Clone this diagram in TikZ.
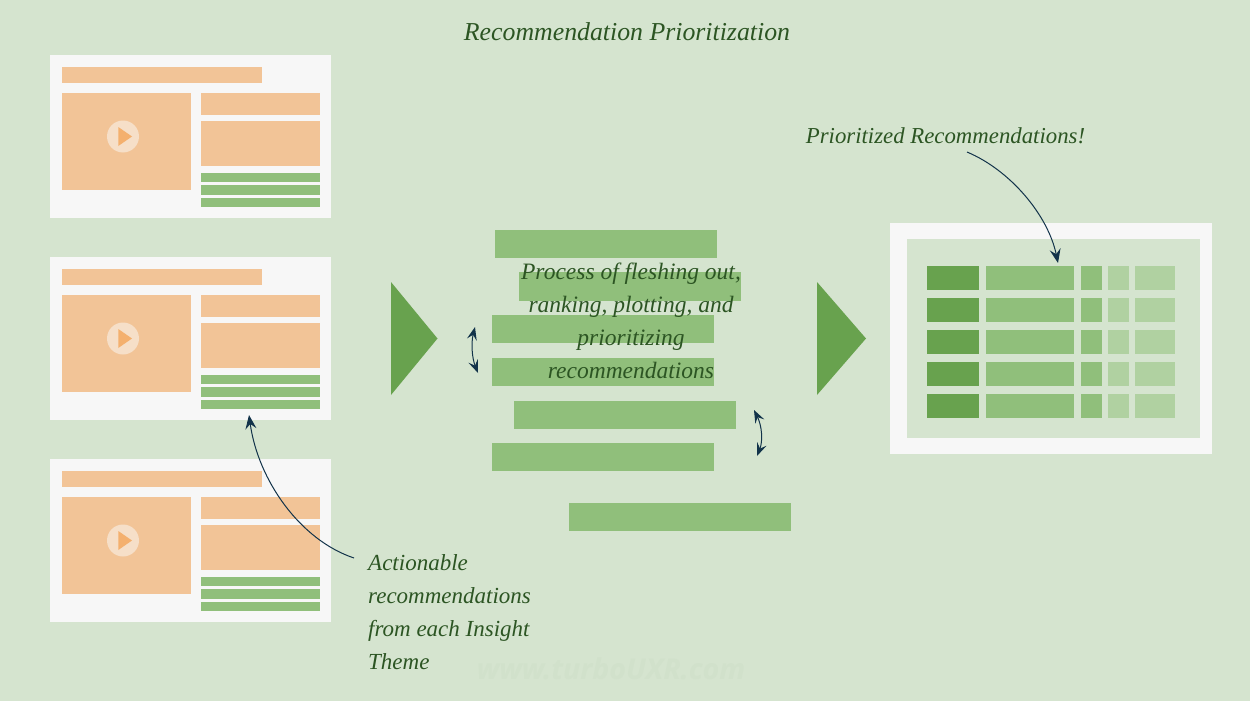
\documentclass[tikz,border=0pt]{standalone}
\usepackage{fontspec}
\setmainfont{Liberation Serif}
\newfontfamily\wmfont{Open Sans}
\usetikzlibrary{arrows.meta}
\definecolor{bgc}{HTML}{D5E4CF}
\definecolor{cardc}{HTML}{F7F7F7}
\definecolor{orangec}{HTML}{F2C497}
\definecolor{greenc}{HTML}{90BF7B}
\definecolor{darkc}{HTML}{68A24E}
\definecolor{lightc}{HTML}{B0D1A1}
\definecolor{playc}{HTML}{F4B06E}
\definecolor{circc}{HTML}{F6DFC8}
\definecolor{arrowc}{HTML}{12334A}
\definecolor{textc}{HTML}{2C5523}
\definecolor{wmc}{HTML}{D1E1CB}
\tikzset{
  blockshape/.style={inner sep=0pt,outer sep=0pt,draw=none,rectangle},
  hand/.style={text=textc,inner sep=0pt,font=\fontsize{#1}{33}\selectfont\itshape},
  hand/.default=23,
  callout/.style={draw=arrowc,line width=1pt,-{Stealth[length=14pt,width=11pt,inset=5pt]}},
  swapper/.style={draw=arrowc,line width=1pt,{Stealth[length=13pt,width=10pt,inset=5pt]}-{Stealth[length=13pt,width=10pt,inset=5pt]}}
}
% \blk[fill]{name}{x0}{y0}{x1}{y1}
\newcommand{\blk}[6][orangec]{%
  \pgfmathsetmacro{\blkx}{((#3)+(#5))/2}%
  \pgfmathsetmacro{\blky}{((#4)+(#6))/2}%
  \pgfmathsetmacro{\blkw}{(#5)-(#3)}%
  \pgfmathsetmacro{\blkh}{(#6)-(#4)}%
  \node[blockshape,fill=#1,minimum width=\blkw pt,minimum height=\blkh pt] (#2) at (\blkx,\blky) {};}
\newcommand{\wirecard}[2]{%
  \blk[cardc]{card#1}{50}{55+#2}{331}{218+#2}
  \blk{title#1}{62}{67+#2}{262}{83+#2}
  \blk{video#1}{62}{93+#2}{191}{190+#2}
  \blk{ra#1}{201}{93+#2}{319.5}{114.5+#2}
  \blk{rb#1}{201}{121+#2}{319.5}{166+#2}
  \blk[greenc]{ga#1}{201}{172.5+#2}{319.5}{182+#2}
  \blk[greenc]{gb#1}{201}{185+#2}{319.5}{195+#2}
  \blk[greenc]{gc#1}{201}{197.5+#2}{319.5}{207+#2}
  \pgfmathsetmacro{\py}{136.5+#2}%
  \node[circle,fill=circc,minimum size=32pt,inner sep=0pt] (circ#1) at (123,\py) {};
  \fill[playc] (118.3,\py-9.5) -- (132,\py) -- (118.3,\py+9.5) -- cycle;
}
\begin{document}
\begin{tikzpicture}[x=1pt,y=-1pt]
\path[use as bounding box,fill=bgc] (0,0) rectangle (1250,701);
\wirecard{1}{0}
\wirecard{2}{202}
\wirecard{3}{404}
% process arrows
\fill[darkc] (391,282) -- (437.5,338.5) -- (391,395) -- cycle;
\fill[darkc] (817,282) -- (866,338.5) -- (817,395) -- cycle;
% centre bars
\blk[greenc]{bar1}{495}{230}{717}{258}
\blk[greenc]{bar2}{519}{272}{741}{300.5}
\blk[greenc]{bar3}{492}{315}{714}{343}
\blk[greenc]{bar4}{492}{357.5}{714}{386}
\blk[greenc]{bar5}{514}{400.5}{736}{429}
\blk[greenc]{bar6}{492}{443}{714}{471}
\blk[greenc]{bar7}{569}{503}{791}{531}
% table
\blk[cardc]{tbl}{890}{223}{1212}{454}
\blk[bgc]{tblin}{907}{239}{1199.5}{438}
\foreach \r/\t in {1/265.7,2/298,3/330,4/362,5/394}{
  \blk[darkc]{ta\r}{927}{\t}{979}{\t+24.3}
  \blk[greenc]{tb\r}{986}{\t}{1074}{\t+24.3}
  \blk[greenc]{tc\r}{1081}{\t}{1102}{\t+24.3}
  \blk[lightc]{td\r}{1108}{\t}{1129}{\t+24.3}
  \blk[lightc]{te\r}{1135}{\t}{1175}{\t+24.3}
}
% texts
\node[hand=25.8,anchor=base] (head) at (627,41) {Recommendation Prioritization};
\node[hand=22.8,anchor=base] (prio) at (945.5,143) {Prioritized Recommendations!};
\node[hand=23.5,anchor=base,align=center] (proc) at (631,378) {Process of fleshing out,\\ranking, plotting, and\\prioritizing\\recommendations};
\node[hand,anchor=base west,align=left] (act) at (368,669) {Actionable\\recommendations\\from each Insight\\Theme};
\node[text=wmc,inner sep=0pt,anchor=base,font=\fontsize{28.6}{29}\selectfont\wmfont\bfseries\itshape] (wm) at (611,679) {www.turboUXR.com};
% connectors
\coordinate (pa) at (967,152);
\coordinate (pb) at (1058,263);
\coordinate (aa) at (354,558);
\coordinate (ab) at (249,415);
\draw[callout] (pa) .. controls (1010,170) and (1048,215) .. (pb);
\draw[callout] (aa) .. controls (300,540) and (258,480) .. (ab);
\coordinate (la) at (475,327);
\coordinate (lb) at (478,373);
\coordinate (ra) at (754,410);
\coordinate (rb) at (757,456);
\draw[swapper] (la) .. controls (471,343) and (472,358) .. (lb);
\draw[swapper] (ra) .. controls (762,426) and (763,441) .. (rb);
\end{tikzpicture}
\end{document}
